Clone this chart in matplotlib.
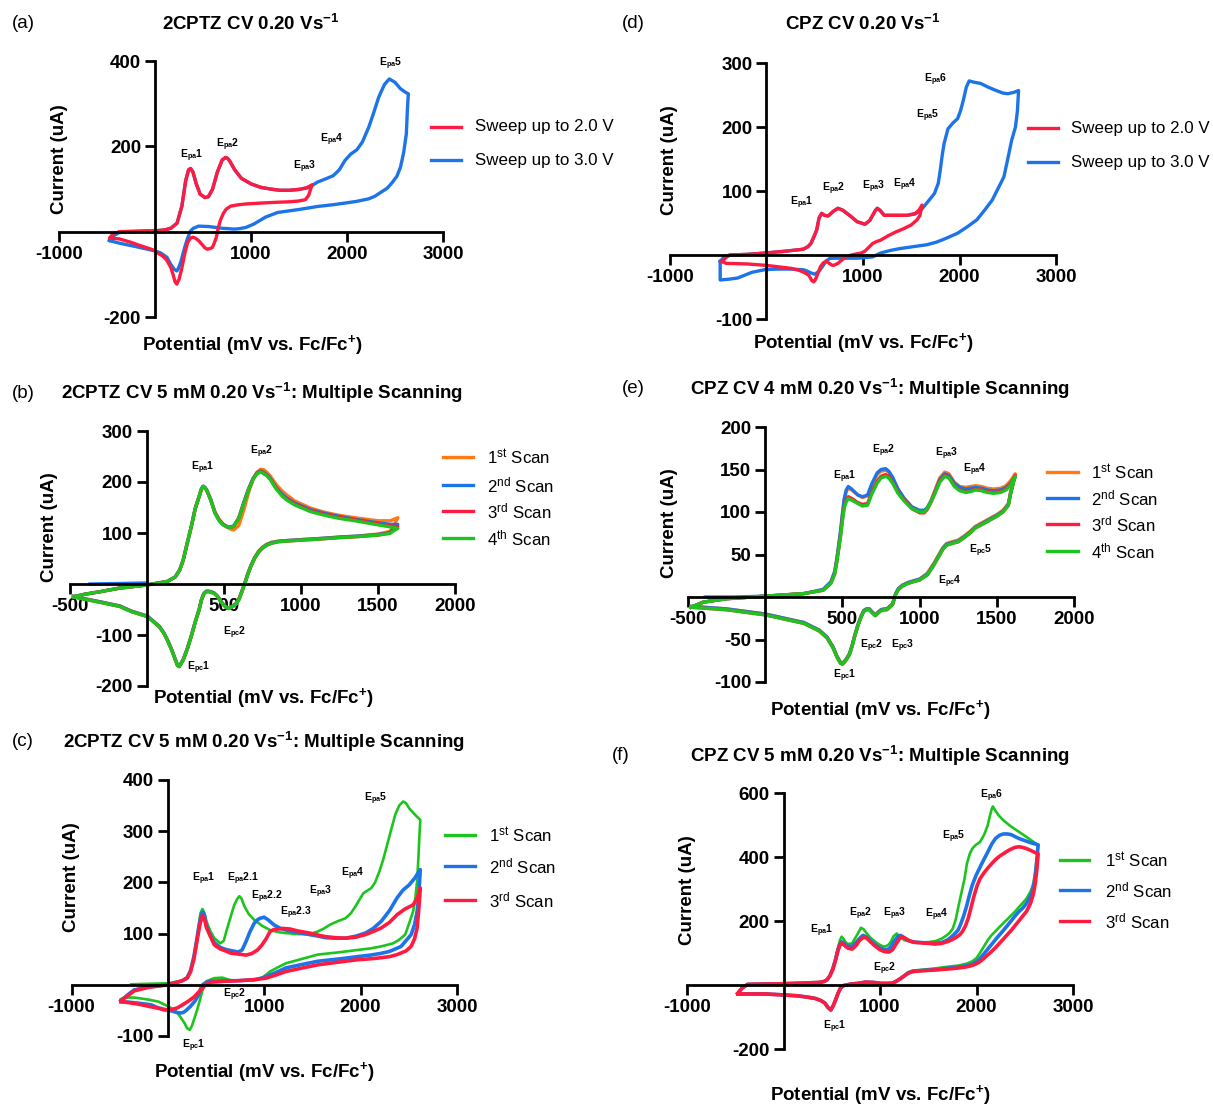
import matplotlib
matplotlib.use('Agg')
import matplotlib.pyplot as plt
from matplotlib.lines import Line2D

plt.rcParams['font.family'] = ['Liberation Sans', 'DejaVu Sans']
plt.rcParams['mathtext.fontset'] = 'custom'
plt.rcParams['mathtext.rm'] = 'Liberation Sans'
plt.rcParams['mathtext.it'] = 'Liberation Sans:italic'
plt.rcParams['mathtext.bf'] = 'Liberation Sans:bold'
plt.rcParams['axes.unicode_minus'] = False

# ---------------- data (potential in mV, current in uA) ----------------
# (a) 2CPTZ, sweep up to 2.0 V / 3.0 V
a_blue_fwd_v = [-474, -420, -371, -200, 0, 100, 165, 230, 280, 320, 350, 371, 395, 430, 470, 520, 557, 600, 650, 700,
                735, 755, 780, 830, 900, 1000, 1100, 1200, 1300, 1400, 1500, 1600, 1691, 1780, 1856, 1920, 1979, 2040,
                2103, 2160, 2227, 2280, 2330, 2390, 2441, 2500, 2557, 2600, 2639]
a_blue_fwd_i = [-20, -8, -2, 0, 2, 4, 8, 20, 60, 120, 145, 148, 140, 112, 88, 80, 82, 100, 140, 168,
                174, 172, 165, 145, 125, 112, 104, 100, 97, 97, 99, 103, 116, 124, 131, 145, 167, 182,
                192, 210, 245, 280, 315, 345, 358, 350, 335, 328, 323]
a_blue_rev_v = [2639, 2630, 2618, 2590, 2557, 2520, 2474, 2420, 2351, 2290, 2227, 2100, 1979, 1850, 1691, 1500, 1278,
                1150, 1031, 948, 880, 825, 700, 560, 454, 400, 371, 340, 309, 270, 240, 227, 200, 165, 124, 60, 0,
                -100, -200, -371, -474]
a_blue_rev_i = [323, 290, 229, 185, 151, 130, 116, 102, 92, 83, 77, 71, 67, 63, 59, 52, 45,
                34, 18, 10, 7, 6, 8, 12, 13, 8, 2, -15, -37, -70, -88, -92, -88, -77, -60, -50, -45,
                -40, -35, -27, -21]
a_red_fwd_v = [-371, -250, -100, 0, 100, 165, 230, 280, 320, 350, 371, 395, 430, 470, 520, 557, 600, 650, 700, 735,
               755, 780, 830, 900, 1000, 1100, 1200, 1300, 1400, 1500, 1580, 1637]
a_red_fwd_i = [0, 1, 2, 2, 4, 8, 20, 60, 120, 145, 148, 140, 112, 88, 80, 82, 100, 140, 168, 174,
               172, 165, 145, 125, 112, 104, 100, 97, 97, 99, 103, 110]
a_red_rev_v = [1637, 1600, 1567, 1500, 1400, 1278, 1100, 950, 866, 790, 742, 710, 680, 660, 639, 615, 598, 570, 544,
               520, 490, 454, 420, 392, 370, 340, 309, 280, 250, 227, 210, 190, 165, 120, 80, 41, 0, -41, -150, -250,
               -371, -474, -440]
a_red_rev_i = [110, 85, 75, 72, 70, 69, 67, 65, 63, 60, 53, 42, 26, 10, -13, -28, -37, -40, -41,
               -38, -30, -21, -15, -13, -15, -25, -52, -85, -112, -123, -118, -102, -84, -66, -57, -52, -45, -41, -33,
               -25, -17, -15, -6]

# (d) CPZ, sweep up to 2.0 V / 3.0 V
d_blue_fwd_v = [-480, -440, -380, -200, -20, 200, 380, 430, 460, 490, 520, 545, 572, 600, 640, 690, 740, 790, 860, 940,
                1020, 1070, 1100, 1130, 1148, 1175, 1220, 1300, 1380, 1460, 1540, 1600, 1660, 1740, 1780, 1800, 1820,
                1840, 1880, 1930, 1980, 2010, 2040, 2070, 2100, 2150, 2220, 2300, 2380, 2450, 2500, 2560, 2612]
d_blue_fwd_i = [-10, -3, 0, 1, 3, 6, 9, 13, 18, 28, 39, 58, 65, 62, 61, 68, 73, 70, 62, 52,
                48, 54, 62, 70, 73, 70, 62, 62, 62, 62, 64, 70, 81, 96, 112, 132, 155,
                174, 197, 206, 213, 225, 242, 262, 272, 270, 268, 262, 257, 253, 252, 254, 257]
d_blue_rev_v = [2612, 2600, 2580, 2540, 2500, 2460, 2400, 2340, 2260, 2180, 2080, 1980, 1920, 1860, 1760, 1660, 1520,
                1380, 1280, 1180, 1100, 1020, 940, 800, 660, 620, 580, 540, 500, 460, 420, 380, 250, 100, -20, -150,
                -300, -400, -480, -480]
d_blue_rev_i = [257, 225, 200, 179, 150, 122, 104, 86, 70, 55, 44, 34, 30, 26, 20, 16, 13,
                10, 7, 3, -3, -4, -5, -5, -5, -9, -18, -26, -30, -28, -25, -23, -22, -22, -23, -27,
                -36, -38, -39, -10]
d_red_fwd_v = [-460, -420, -380, -200, -20, 200, 380, 430, 460, 490, 520, 545, 572, 600, 640, 690, 740, 790, 860, 940,
               1020, 1070, 1100, 1130, 1148, 1175, 1220, 1300, 1380, 1460, 1540, 1580, 1612]
d_red_fwd_i = [-10, -4, 0, 1, 3, 6, 9, 13, 18, 28, 39, 58, 65, 62, 61, 68, 73, 70, 62, 52,
               48, 54, 62, 70, 73, 70, 62, 62, 62, 62, 65, 70, 78]
d_red_rev_v = [1612, 1590, 1560, 1500, 1420, 1340, 1260, 1180, 1140, 1100, 1060, 1020, 980, 940, 880, 820, 780, 740,
               700, 680, 650, 620, 590, 560, 530, 505, 488, 470, 440, 400, 340, 260, 100, -20, -200, -420, -460]
d_red_rev_i = [78, 62, 55, 47, 41, 36, 30, 23, 21, 18, 12, 6, 3, 2, 0, -3, -8, -13,
               -16, -16, -13, -10, -12, -18, -30, -39, -42, -40, -32, -28, -24, -21, -18, -16, -14, -13, -10]

# (b) 2CPTZ 5 mM, four scans
b_fwd_v = [-474, -400, -300, -175, 0, 134, 186, 215, 237, 263, 289, 315, 340, 355, 366, 380, 392, 415, 443, 470,
           495, 520, 541, 565, 598, 630, 660, 690, 715, 740, 760, 780, 804, 840, 880, 907, 960, 1062, 1150, 1242,
           1350, 1500, 1580, 1629]
b_rev_v = [1629, 1600, 1577, 1500, 1371, 1250, 1113, 1000, 900, 856, 810, 778, 750, 727, 700, 675, 655, 637, 618, 598,
           578, 559, 540, 533, 515, 495, 482, 460, 440, 418, 400, 387, 370, 355, 340, 315, 289, 263, 237, 220,
           211, 200, 186, 160, 134, 110, 82, 40, 5, -100, -175, -300, -433, -474]
b_start_v = [-368, -175, 0]
b_start_i = [0, 1, 2]
b_scan1_fwd = [-25, -20, -15, -8, -2, 5, 14, 28, 47, 80, 112, 148, 171, 186, 191, 188, 182, 166, 141, 127,
               118, 112, 108, 106, 115, 145, 178, 205, 219, 225, 224, 219, 211, 195, 182, 175, 163, 149, 141, 135,
               130, 124, 124, 130]
b_scan1_rev = [130, 112, 103, 98, 94, 92, 89, 87, 85, 84, 82, 78, 72, 65, 52, 36, 20, 3, -13, -29,
               -38, -43, -46, -47, -45, -39, -34, -24, -18, -15, -14, -14, -19, -31, -50, -74, -102, -127, -148, -157,
               -161, -159, -148, -127, -109, -95, -83, -72, -63, -53, -43, -35, -27, -24]
b_scan2_fwd = [-25, -20, -15, -8, -2, 5, 14, 28, 47, 80, 112, 148, 172, 187, 192, 189, 183, 166, 140, 125,
               117, 113, 112, 114, 130, 160, 186, 207, 218, 222, 219, 214, 206, 189, 176, 169, 159, 146, 139, 133,
               127, 120, 117, 117]
b_scan2_rev = [117, 108, 101, 97, 94, 92, 89, 87, 85, 84, 81, 77, 71, 64, 51, 35, 19, 2, -14, -30,
               -39, -43, -46, -47, -45, -39, -34, -24, -18, -15, -14, -14, -19, -31, -50, -74, -102, -127, -148, -157,
               -161, -159, -148, -127, -109, -95, -83, -72, -63, -53, -43, -35, -27, -24]
b_scan3_fwd = [-25, -20, -15, -8, -2, 5, 14, 28, 47, 80, 112, 148, 171, 186, 191, 188, 182, 165, 140, 125,
               117, 112, 111, 113, 130, 159, 185, 206, 217, 221, 217, 213, 205, 188, 174, 167, 157, 144, 137, 131,
               126, 118, 114, 113]
b_scan3_rev = [113, 106, 100, 96, 93, 91, 88, 86, 84, 83, 80, 76, 70, 63, 50, 34, 18, 1, -15, -31,
               -40, -44, -47, -48, -46, -40, -35, -25, -19, -16, -15, -15, -20, -32, -51, -75, -103, -128, -149, -158,
               -162, -160, -149, -128, -110, -96, -84, -73, -64, -54, -44, -36, -28, -25]
b_scan4_fwd = [-25, -20, -15, -8, -2, 5, 14, 28, 47, 80, 112, 148, 171, 186, 191, 188, 182, 165, 139, 124,
               116, 112, 111, 113, 129, 158, 184, 205, 216, 220, 216, 212, 204, 186, 172, 165, 155, 142, 135, 129,
               124, 116, 112, 109]
b_scan4_rev = [109, 104, 99, 96, 93, 91, 88, 86, 84, 83, 80, 76, 70, 63, 50, 34, 18, 1, -15, -31,
               -40, -44, -47, -48, -46, -40, -35, -25, -19, -16, -15, -15, -20, -32, -51, -75, -103, -128, -149, -158,
               -162, -160, -149, -128, -110, -96, -84, -73, -64, -54, -44, -36, -28, -25]

# (e) CPZ 4 mM, four scans
e_fwd_v = [-480, -400, -250, 0, 250, 375, 425, 450, 463, 475, 488, 500, 512, 525, 538, 560, 600, 630, 663, 690,
           725, 750, 780, 800, 825, 860, 900, 950, 1000, 1030, 1050, 1075, 1100, 1130, 1163, 1190, 1225, 1260, 1300,
           1330, 1363, 1400, 1438, 1480, 1525, 1560, 1590, 1620]
e_rev_v = [1620, 1612, 1590, 1575, 1540, 1500, 1450, 1400, 1360, 1325, 1290, 1250, 1210, 1175, 1150, 1125, 1090, 1050,
           1000, 960, 925, 890, 863, 845, 825, 800, 788, 770, 750, 730, 713, 695, 675, 655, 638, 620, 600, 580,
           563, 545, 525, 512, 500, 488, 475, 463, 440, 400, 350, 250, 100, 0, -250, -480]
e_start_v = [-388, -200, 0]
e_start_i = [0, 0, 1]
e_scan1_fwd = [-12, -6, -2, 1, 4, 8, 17, 29, 43, 58, 76, 96, 114, 124, 128, 126, 120, 117, 119, 131,
               144, 148, 149, 147, 140, 127, 116, 106, 101, 101, 105, 114, 126, 140, 147, 145, 135, 130, 129,
               130, 131, 130, 128, 127, 128, 131, 137, 145]
e_scan1_rev = [145, 140, 124, 110, 102, 97, 92, 87, 83, 77, 72, 67, 65, 63, 58, 50, 39, 28,
               21, 19, 17, 14, 10, 4, -8, -12, -14, -14, -15, -18, -21, -18, -14, -14, -16, -23, -33, -45,
               -57, -67, -73, -76, -78, -77, -73, -69, -59, -47, -39, -30, -24, -20, -14, -11]
e_scan2_fwd = [-12, -6, -2, 1, 4, 9, 18, 30, 44, 60, 78, 98, 116, 126, 130, 127, 120, 118, 120, 133,
               146, 150, 151, 148, 141, 127, 116, 106, 102, 102, 105, 113, 124, 138, 145, 143, 134, 129, 127,
               128, 129, 128, 126, 125, 126, 129, 134, 142]
e_scan2_rev = [142, 138, 123, 109, 101, 96, 91, 86, 82, 76, 71, 66, 64, 62, 57, 49, 38, 27,
               21, 19, 17, 14, 10, 4, -8, -12, -14, -14, -15, -18, -21, -18, -14, -14, -16, -23, -33, -45,
               -57, -67, -73, -76, -78, -77, -73, -69, -59, -47, -39, -30, -24, -20, -14, -11]
e_scan3_fwd = [-12, -6, -2, 1, 4, 8, 16, 27, 41, 56, 72, 91, 107, 114, 118, 116, 111, 109, 110, 123,
               136, 142, 144, 142, 135, 123, 114, 104, 99, 99, 103, 112, 123, 136, 143, 141, 131, 126, 124,
               125, 127, 126, 124, 123, 124, 127, 133, 143]
e_scan3_rev = [143, 138, 122, 108, 100, 95, 90, 85, 81, 75, 70, 65, 63, 61, 56, 48, 37, 26,
               20, 18, 16, 13, 9, 3, -9, -13, -15, -15, -16, -19, -22, -19, -15, -15, -17, -24, -34, -46,
               -58, -68, -74, -77, -79, -78, -74, -70, -60, -48, -40, -31, -25, -21, -15, -12]
e_scan4_fwd = [-12, -6, -2, 1, 4, 8, 16, 27, 40, 55, 71, 90, 105, 112, 116, 114, 110, 107, 108, 121,
               134, 140, 142, 140, 134, 122, 113, 104, 100, 100, 104, 112, 122, 135, 142, 140, 130, 125, 123,
               124, 126, 125, 123, 122, 123, 126, 132, 142]
e_scan4_rev = [142, 138, 122, 108, 100, 95, 90, 85, 81, 75, 70, 65, 63, 61, 56, 48, 37, 26,
               20, 18, 16, 13, 9, 3, -9, -13, -15, -15, -16, -19, -22, -19, -15, -15, -17, -24, -34, -46,
               -58, -68, -74, -77, -79, -78, -74, -70, -60, -48, -40, -31, -25, -21, -15, -12]

# (c) 2CPTZ 5 mM up to 3 V, three scans
c_scan1_fwd_v = [-380, -200, 0, 153, 200, 235, 270, 297, 320, 338, 359, 380, 400, 440, 482, 544, 580, 606, 650, 689,
                 720, 742, 765, 792, 840, 895, 980, 1060, 1140, 1225, 1350, 1472, 1555, 1620, 1678, 1760, 1843, 1900,
                 1946, 1990, 2029, 2070, 2111, 2150, 2194, 2235, 2276, 2320, 2359, 2400, 2441, 2470, 2503, 2560, 2619]
c_scan1_fwd_i = [1, 2, 3, 8, 14, 26, 55, 85, 115, 140, 148, 140, 124, 105, 91, 81, 86, 104, 132, 156,
                 168, 173, 168, 154, 138, 127, 115, 107, 103, 101, 99, 99, 104, 110, 117, 124, 130, 140,
                 153, 167, 179, 184, 189, 200, 221, 245, 274, 305, 332, 350, 358, 355, 345, 333, 322]
c_scan1_rev_v = [2619, 2610, 2600, 2586, 2565, 2544, 2500, 2462, 2400, 2338, 2214, 2100, 1967, 1800, 1555, 1400, 1225,
                 1140, 1060, 977, 895, 730, 650, 565, 482, 440, 400, 370, 338, 310, 276, 250, 227, 200, 173, 120, 70,
                 0, -95, -200, -342, -420, -466, -487]
c_scan1_rev_i = [322, 290, 250, 202, 165, 143, 118, 98, 88, 81, 75, 71, 68, 64, 59, 51, 42,
                 34, 26, 13, 9, 8, 9, 14, 13, 10, 7, -2, -26, -45, -65, -80, -88, -85, -75, -60, -49,
                 -42, -33, -29, -25, -25, -26, -28]
c_scan2_fwd_v = [-487, -420, -350, -200, 0, 150, 200, 235, 270, 297, 320, 338, 359, 380, 400, 440, 482, 544, 600, 650,
                 730, 770, 812, 850, 895, 930, 957, 998, 1040, 1101, 1160, 1225, 1350, 1472, 1560, 1637, 1740, 1843,
                 1950, 2049, 2130, 2214, 2300, 2379, 2440, 2503, 2560, 2619]
c_scan2_fwd_i = [-31, -20, -10, -4, 0, 8, 14, 28, 55, 85, 112, 130, 142, 135, 115, 96, 82, 73, 69, 67,
                 64, 68, 85, 103, 120, 127, 130, 132, 127, 117, 111, 107, 102, 98, 95, 92, 91, 91,
                 95, 101, 110, 124, 145, 170, 185, 195, 208, 225]
c_scan2_rev_v = [2619, 2610, 2600, 2586, 2560, 2524, 2470, 2420, 2360, 2297, 2200, 2100, 1967, 1800, 1555, 1400, 1225,
                 1120, 1019, 950, 895, 730, 600, 441, 400, 359, 340, 318, 280, 235, 190, 160, 132, 90, 40, -12, -100,
                 -177, -300, -400, -487]
c_scan2_rev_i = [225, 195, 168, 143, 118, 98, 86, 75, 70, 65, 61, 58, 55, 51, 46, 40, 33,
                 24, 16, 12, 10, 8, 8, 7, 5, 0, -8, -20, -32, -42, -50, -54, -55, -54, -51, -49, -45,
                 -39, -36, -34, -33]
c_scan3_fwd_v = [-487, -420, -350, -200, 0, 150, 200, 235, 270, 297, 320, 338, 359, 380, 400, 440, 482, 544, 600, 650,
                 730, 812, 870, 930, 977, 1020, 1060, 1100, 1142, 1200, 1266, 1350, 1472, 1560, 1637, 1740, 1843,
                 1950, 2049, 2130, 2214, 2300, 2379, 2460, 2544, 2590, 2619]
c_scan3_fwd_i = [-31, -22, -12, -5, 0, 8, 13, 25, 50, 80, 105, 122, 135, 128, 112, 95, 78, 70, 66, 62,
                 60, 58, 61, 68, 78, 90, 104, 108, 109, 110, 109, 105, 101, 97, 94, 92, 91,
                 93, 98, 104, 111, 122, 137, 148, 156, 170, 189]
c_scan3_rev_v = [2619, 2610, 2600, 2586, 2560, 2524, 2470, 2379, 2300, 2173, 2050, 1967, 1800, 1555, 1400, 1225, 1120,
                 1019, 900, 730, 600, 441, 400, 359, 320, 276, 220, 153, 100, 29, -40, -95, -200, -301, -400, -487]
c_scan3_rev_i = [189, 165, 140, 111, 90, 75, 66, 59, 55, 52, 50, 49, 45, 39, 33, 26, 19,
                 13, 10, 8, 7, 5, 2, -7, -14, -23, -31, -39, -45, -49, -49, -46, -42, -38, -35, -33]

# (f) CPZ 5 mM up to 3 V, three scans
f_scan1_fwd_v = [-474, -430, -373, -200, 0, 200, 369, 420, 450, 480, 510, 540, 562, 585, 602, 620, 645, 670, 711, 740,
                 771, 803, 830, 851, 900, 972, 1020, 1052, 1090, 1112, 1140, 1173, 1200, 1253, 1330, 1414, 1500, 1574,
                 1640, 1695, 1730, 1755, 1785, 1815, 1845, 1876, 1900, 1930, 1956, 1990, 2036, 2080, 2116, 2140, 2158,
                 2170, 2195, 2230, 2277, 2350, 2438, 2540, 2639]
f_scan1_fwd_i = [-26, -10, 2, 3, 4, 6, 8, 11, 16, 30, 52, 85, 114, 140, 151, 145, 133, 128, 130, 145,
                 161, 179, 174, 166, 148, 130, 122, 120, 126, 135, 152, 161, 152, 140, 135, 133, 134, 137,
                 145, 156, 166, 177, 205, 249, 290, 332, 378, 410, 426, 437, 447, 470, 499, 530, 550,
                 558, 545, 530, 515, 497, 479, 458, 437]
f_scan2_fwd_v = [-474, -430, -373, -200, 0, 200, 369, 420, 450, 480, 510, 540, 562, 585, 602, 620, 645, 670, 711, 750,
                 790, 823, 850, 880, 930, 990, 1040, 1072, 1110, 1150, 1185, 1213, 1240, 1290, 1350, 1414, 1500, 1574,
                 1640, 1695, 1740, 1775, 1810, 1836, 1866, 1896, 1926, 1956, 1996, 2036, 2076, 2116, 2157, 2197, 2240,
                 2277, 2320, 2358, 2438, 2558, 2639]
f_scan2_fwd_i = [-26, -10, 2, 3, 4, 6, 8, 11, 16, 28, 50, 80, 108, 128, 135, 133, 125, 121, 120, 132,
                 146, 155, 152, 144, 130, 117, 111, 110, 118, 138, 152, 155, 150, 140, 134, 133, 131, 130,
                 133, 140, 150, 160, 172, 190, 215, 245, 280, 312, 343, 368, 392, 415, 440, 458, 468,
                 472, 472, 470, 458, 445, 438]
f_scan3_fwd_v = [-474, -430, -373, -200, 0, 200, 369, 420, 450, 480, 510, 540, 562, 585, 602, 620, 645, 670, 711, 750,
                 790, 831, 860, 890, 940, 1000, 1050, 1092, 1130, 1170, 1205, 1233, 1260, 1310, 1360, 1414, 1500, 1574,
                 1640, 1695, 1750, 1795, 1830, 1856, 1886, 1916, 1946, 1976, 2006, 2036, 2076, 2116, 2157, 2197, 2237,
                 2277, 2340, 2398, 2440, 2478, 2520, 2558, 2600, 2639]
f_scan3_fwd_i = [-26, -10, 2, 3, 4, 6, 8, 11, 16, 28, 48, 78, 105, 124, 130, 128, 120, 115, 112, 123,
                 140, 150, 147, 138, 124, 110, 104, 103, 110, 130, 146, 150, 146, 137, 133, 132, 130, 128,
                 130, 135, 142, 150, 158, 168, 185, 210, 245, 280, 310, 332, 350, 365, 379, 392, 402,
                 410, 422, 430, 432, 430, 426, 421, 415, 410]
f_rev_v = [2639, 2625, 2610, 2590, 2560, 2518, 2478, 2438, 2398, 2358, 2318, 2277, 2237, 2197, 2157, 2116, 2076, 2036,
           1996, 1956, 1900, 1815, 1700, 1574, 1414, 1340, 1293, 1250, 1213, 1170, 1133, 1080, 1012, 932, 850, 771,
           700, 651, 620, 590, 565, 542, 515, 490, 460, 430, 390, 329, 250, 150, 0, -193, -350, -474]
f_scan1_rev_i = [437, 395, 355, 318, 292, 270, 256, 243, 229, 217, 205, 193, 181, 168, 156, 140, 120, 100,
                 83, 74, 67, 61, 57, 52, 47, 45, 40, 30, 21, 12, 5, 5, 5, 8, 9, 5,
                 3, 0, -2, -10, -26, -45, -65, -78, -70, -57, -49, -42, -38, -34, -31, -28, -28, -28]
f_scan2_rev_i = [438, 390, 345, 305, 278, 255, 240, 229, 215, 200, 185, 170, 156, 142, 127, 112, 97, 83,
                 72, 65, 60, 56, 52, 48, 45, 43, 38, 28, 20, 12, 6, 5, 5, 8, 9, 5,
                 3, 0, -2, -10, -26, -45, -65, -78, -70, -57, -49, -42, -38, -34, -31, -28, -28, -28]
f_scan3_rev_i = [410, 360, 320, 285, 255, 230, 215, 200, 185, 170, 157, 143, 130, 117, 105, 94, 83, 73,
                 66, 61, 57, 53, 50, 47, 44, 42, 37, 28, 20, 12, 6, 5, 5, 8, 9, 5,
                 3, 0, -2, -10, -26, -45, -65, -78, -70, -57, -49, -42, -38, -34, -31, -28, -28, -28]

sweep_labels = ['Sweep up to 2.0 V', 'Sweep up to 3.0 V']
scan_labels = ['1$^{\\mathrm{st}}$ Scan', '2$^{\\mathrm{nd}}$ Scan', '3$^{\\mathrm{rd}}$ Scan', '4$^{\\mathrm{th}}$ Scan']

RED = '#FF1A40'
BLUE = '#1C74E8'
GREEN = '#1DC41D'
ORANGE = '#FF7A14'

# ---------------- figure ----------------
W, H = 1213, 1106
fig = plt.figure(figsize=(W / 100, H / 100), dpi=100)


def fx(x):
    return x / W


def fy(y):
    return 1 - y / H


def make_axes(left, right, top, bottom, xlim, ylim, xticks, yticks):
    ax = fig.add_axes([fx(left), fy(bottom), (right - left) / W, (bottom - top) / H])
    ax.set_xlim(*xlim)
    ax.set_ylim(*ylim)
    ax.patch.set_visible(False)
    ax.set_axisbelow(True)
    for s in ['top', 'right']:
        ax.spines[s].set_visible(False)
    for s in ['left', 'bottom']:
        ax.spines[s].set_position(('data', 0))
        ax.spines[s].set_linewidth(2)
    ax.set_xticks(xticks)
    ax.set_yticks(yticks)
    ax.tick_params(direction='out', length=7, width=2, labelsize=13.5, pad=3)
    for t in ax.get_xticklabels() + ax.get_yticklabels():
        t.set_fontweight('bold')
    return ax


def loop(ax, fv, fi, rv, ri, color, lw=2.4):
    ax.plot(list(fv) + list(rv), list(fi) + list(ri), color=color, lw=lw, solid_joinstyle='round', clip_on=False)


def panel_text(letter, lx, title, tx, ty, ylab_xy, xlab_xy):
    fig.text(fx(lx), fy(ty), letter, fontsize=13.5, ha='left', va='center')
    fig.text(fx(tx), fy(ty), title, fontsize=13.5, fontweight='bold', ha='center', va='center')
    fig.text(fx(ylab_xy[0]), fy(ylab_xy[1]), 'Current (uA)', fontsize=13.5, fontweight='bold',
             rotation=90, ha='center', va='center')
    fig.text(fx(xlab_xy[0]), fy(xlab_xy[1]), 'Potential (mV vs. Fc/Fc$^{\\mathbf{+}}$)', fontsize=13.5,
             fontweight='bold', ha='center', va='center')


def legend_px(x0, x1, xt, ys, labels, colors):
    for y, lab, c in zip(ys, labels, colors):
        fig.add_artist(Line2D([fx(x0), fx(x1)], [fy(y), fy(y)], color=c, lw=2.4))
        fig.text(fx(xt), fy(y), lab, fontsize=12.2, ha='left', va='center')


def peaks(ax, items):
    for lab, x, y in items:
        ax.text(x, y, lab, fontsize=7.5, fontweight='bold', ha='center', va='center')


def ep(kind, n):
    return 'E$_{\\mathbf{' + kind + '}}$' + n


# (a)
ax = make_axes(59, 443, 61, 317, (-1000, 3000), (-200, 400), [-1000, 1000, 2000, 3000], [-200, 200, 400])
loop(ax, a_blue_fwd_v, a_blue_fwd_i, a_blue_rev_v, a_blue_rev_i, BLUE)
loop(ax, a_red_fwd_v, a_red_fwd_i, a_red_rev_v, a_red_rev_i, RED)
peaks(ax, [(ep('pa', '1'), 384, 177), (ep('pa', '2'), 755, 204), (ep('pa', '3'), 1555, 151),
           (ep('pa', '4'), 1843, 215), (ep('pa', '5'), 2454, 394)])
panel_text('(a)', 12, '2CPTZ CV 0.20 Vs$^{\\mathbf{-1}}$', 251, 24, (59, 159), (252, 345))
legend_px(431, 461, 475, [127, 160], sweep_labels, [RED, BLUE])

# (d)
ax = make_axes(670, 1056, 63, 319, (-1000, 3000), (-100, 300), [-1000, 1000, 2000, 3000], [-100, 100, 200, 300])
loop(ax, d_blue_fwd_v, d_blue_fwd_i, d_blue_rev_v, d_blue_rev_i, BLUE)
loop(ax, d_red_fwd_v, d_red_fwd_i, d_red_rev_v, d_red_rev_i, RED)
peaks(ax, [(ep('pa', '1'), 368, 82), (ep('pa', '2'), 700, 104), (ep('pa', '3'), 1112, 106),
           (ep('pa', '4'), 1428, 109), (ep('pa', '5'), 1668, 217), (ep('pa', '6'), 1748, 274)])
panel_text('(d)', 622, 'CPZ CV 0.20 Vs$^{\\mathbf{-1}}$', 863, 24, (669, 160), (863, 343))
legend_px(1028, 1058, 1071, [128, 162], sweep_labels, [RED, BLUE])

# (b)
ax = make_axes(69.6, 455, 431, 686, (-500, 2000), (-200, 300), [-500, 500, 1000, 1500, 2000],
               [-200, -100, 100, 200, 300])
ax.plot(b_start_v, b_start_i, color=BLUE, lw=2.4)
loop(ax, b_fwd_v, b_scan1_fwd, b_rev_v, b_scan1_rev, ORANGE)
loop(ax, b_fwd_v, b_scan2_fwd, b_rev_v, b_scan2_rev, BLUE)
loop(ax, b_fwd_v, b_scan3_fwd, b_rev_v, b_scan3_rev, RED)
loop(ax, b_fwd_v, b_scan4_fwd, b_rev_v, b_scan4_rev, GREEN)
peaks(ax, [(ep('pa', '1'), 366, 227), (ep('pa', '2'), 745, 259), (ep('pc', '2'), 567, -95),
           (ep('pc', '1'), 340, -164)])
panel_text('(b)', 12, '2CPTZ CV 5 mM 0.20 Vs$^{\\mathbf{-1}}$: Multiple Scanning', 262, 393, (50, 527), (263, 698))
legend_px(443, 473, 487, [457, 485, 511, 538], scan_labels, [ORANGE, BLUE, RED, GREEN])

# (e)
ax = make_axes(688, 1074, 427, 682, (-500, 2000), (-100, 200), [-500, 500, 1000, 1500, 2000],
               [-100, -50, 50, 100, 150, 200])
ax.plot(e_start_v, e_start_i, color=BLUE, lw=2.4)
loop(ax, e_fwd_v, e_scan1_fwd, e_rev_v, e_scan1_rev, ORANGE)
loop(ax, e_fwd_v, e_scan2_fwd, e_rev_v, e_scan2_rev, BLUE)
loop(ax, e_fwd_v, e_scan3_fwd, e_rev_v, e_scan3_rev, RED)
loop(ax, e_fwd_v, e_scan4_fwd, e_rev_v, e_scan4_rev, GREEN)
peaks(ax, [(ep('pa', '1'), 512, 142), (ep('pa', '2'), 768, 172), (ep('pa', '3'), 1175, 169),
           (ep('pa', '4'), 1358, 150), (ep('pc', '5'), 1395, 54), (ep('pc', '4'), 1195, 18),
           (ep('pc', '2'), 688, -57), (ep('pc', '3'), 893, -57), (ep('pc', '1'), 512, -93)])
panel_text('(e)', 622, 'CPZ CV 4 mM 0.20 Vs$^{\\mathbf{-1}}$: Multiple Scanning', 880, 389, (669, 523), (880, 710))
legend_px(1047, 1078, 1091, [472, 498, 524, 551], scan_labels, [ORANGE, BLUE, RED, GREEN])

# (c)
ax = make_axes(71.5, 457, 780, 1036, (-1000, 3000), (-100, 400), [-1000, 1000, 2000, 3000],
               [-100, 100, 200, 300, 400])
loop(ax, c_scan1_fwd_v, c_scan1_fwd_i, c_scan1_rev_v, c_scan1_rev_i, GREEN, lw=1.9)
loop(ax, c_scan2_fwd_v, c_scan2_fwd_i, c_scan2_rev_v, c_scan2_rev_i, BLUE, lw=2.6)
loop(ax, c_scan3_fwd_v, c_scan3_fwd_i, c_scan3_rev_v, c_scan3_rev_i, RED, lw=2.6)
peaks(ax, [(ep('pa', '1'), 367, 208), (ep('pa', '2.1'), 784, 207), (ep('pa', '2.2'), 1027, 172),
           (ep('pa', '2.3'), 1328, 141), (ep('pa', '3'), 1584, 182), (ep('pa', '4'), 1913, 216),
           (ep('pa', '5'), 2161, 364), (ep('pc', '2'), 697, -20), (ep('pc', '1'), 264, -119)])
panel_text('(c)', 12, '2CPTZ CV 5 mM 0.20 Vs$^{\\mathbf{-1}}$: Multiple Scanning', 264, 742, (71, 877), (264, 1072))
legend_px(445, 475, 489, [835, 866, 900], scan_labels[:3], [GREEN, BLUE, RED])

# (f)
ax = make_axes(687, 1073, 793, 1049, (-1000, 3000), (-200, 600), [-1000, 1000, 2000, 3000], [-200, 200, 400, 600])
loop(ax, f_scan1_fwd_v, f_scan1_fwd_i, f_rev_v, f_scan1_rev_i, GREEN, lw=1.9)
loop(ax, f_scan2_fwd_v, f_scan2_fwd_i, f_rev_v, f_scan2_rev_i, BLUE, lw=2.6)
loop(ax, f_scan3_fwd_v, f_scan3_fwd_i, f_rev_v, f_scan3_rev_i, RED, lw=2.6)
peaks(ax, [(ep('pa', '1'), 398, 168), (ep('pa', '2'), 799, 223), (ep('pa', '3'), 1153, 223),
           (ep('pa', '4'), 1586, 220), (ep('pa', '5'), 1763, 462), (ep('pa', '6'), 2157, 592),
           (ep('pc', '2'), 1052, 52), (ep('pc', '1'), 530, -130)])
panel_text('(f)', 612, 'CPZ CV 5 mM 0.20 Vs$^{\\mathbf{-1}}$: Multiple Scanning', 880, 756, (687, 890), (880, 1095))
legend_px(1060, 1089, 1105, [860, 890, 921], scan_labels[:3], [GREEN, BLUE, RED])

fig.savefig('out.png', dpi=100)
